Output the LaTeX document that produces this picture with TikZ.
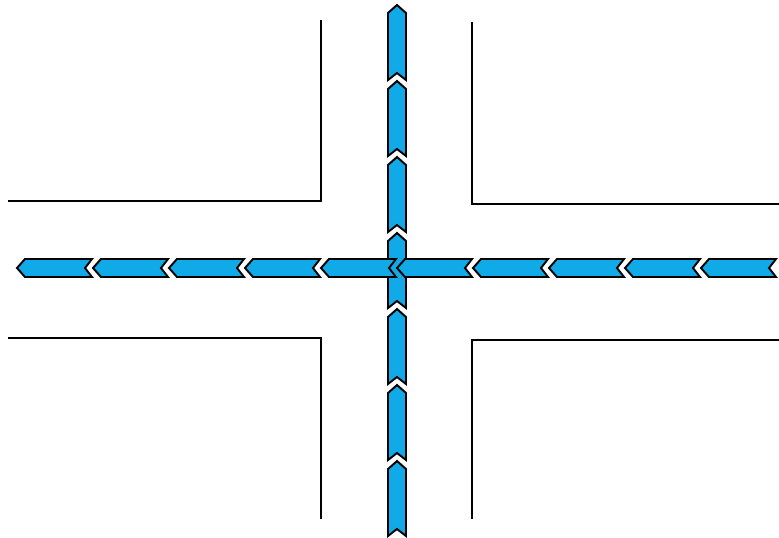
\documentclass[tikz,border=0pt]{standalone}
\usepackage{tikz}
\definecolor{chevblue}{RGB}{16,170,232}
\tikzset{every picture/.style={line width=0.75pt}}
\tikzset{
  roadedge/.style={line width=1.3pt, black},
  chevron/.style={fill=chevblue, draw=black, line width=1.1pt, line join=miter},
}

\begin{document}
\begin{tikzpicture}[x=0.2mm, y=-0.2mm]
    % 画布范围
    \useasboundingbox (0,0) rectangle (779,537);

    % 道路边线
    \draw[roadedge] (321,20) -- (321,201) -- (8,201);
    \draw[roadedge] (472,22) -- (472,204) -- (779,204);
    \draw[roadedge] (8,338) -- (321,338) -- (321,519);
    \draw[roadedge] (779,340) -- (472,340) -- (472,519);

    % 竖向箭头（向上）
    \foreach \k in {0,...,6} {
        \pgfmathsetmacro{\yy}{5+76*\k}
        \draw[chevron] (397,\yy) -- (406,\yy+8) -- (406,\yy+75) -- (397,\yy+68)
            -- (388,\yy+75) -- (388,\yy+8) -- cycle;
    }

    % 横向箭头（向左）
    \foreach \k in {0,...,9} {
        \pgfmathsetmacro{\xx}{17+76*\k}
        \draw[chevron] (\xx,268) -- (\xx+8,259) -- (\xx+75,259) -- (\xx+68,268)
            -- (\xx+75,277) -- (\xx+8,277) -- cycle;
    }
\end{tikzpicture}
\end{document}
